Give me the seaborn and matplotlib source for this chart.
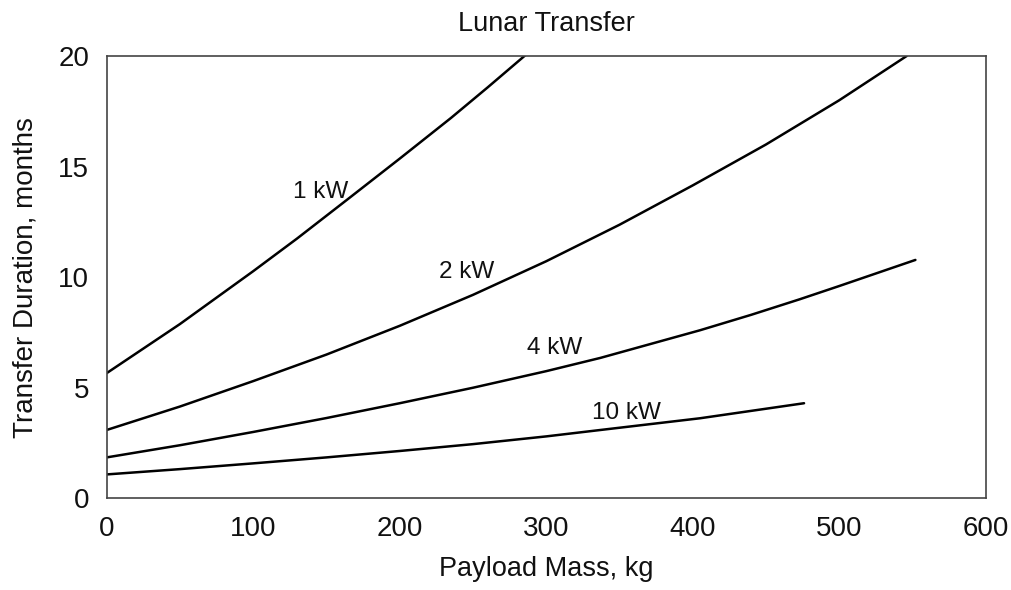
import matplotlib
matplotlib.use("Agg")
import matplotlib.pyplot as plt
import seaborn as sns
import pandas as pd

# Data
kg_1kw = [0, 50, 100, 130, 165, 200, 235, 260, 286]
t_1kw = [5.66, 7.88, 10.27, 11.75, 13.55, 15.36, 17.2, 18.58, 20.05]

kg_2kw = [0, 50, 100, 150, 200, 250, 300, 350, 400, 450, 500, 546]
t_2kw = [3.09, 4.15, 5.3, 6.5, 7.8, 9.2, 10.72, 12.37, 14.15, 16.0, 18.0, 20.0]

kg_4kw = [0, 50, 100, 150, 200, 250, 300, 337, 405, 440, 473, 500, 552]
t_4kw = [1.85, 2.4, 3.0, 3.63, 4.3, 5.0, 5.75, 6.35, 7.6, 8.3, 9.0, 9.6, 10.78]

kg_10kw = [0, 50, 100, 150, 200, 250, 300, 337, 405, 476]
t_10kw = [1.08, 1.32, 1.58, 1.85, 2.14, 2.45, 2.8, 3.09, 3.62, 4.3]

series_names = ["1 kW", "2 kW", "4 kW", "10 kW"]
label_x = [146, 246, 306, 355]
label_y = [13.83, 10.25, 6.79, 3.85]

x_ticks = [0, 100, 200, 300, 400, 500, 600]
y_ticks = [0, 5, 10, 15, 20]

frames = []
for name, xs, ys in zip(series_names,
                        [kg_1kw, kg_2kw, kg_4kw, kg_10kw],
                        [t_1kw, t_2kw, t_4kw, t_10kw]):
    frames.append(pd.DataFrame({"mass": xs, "duration": ys, "power": name}))
df = pd.concat(frames, ignore_index=True)

sns.set_style("white")
plt.rcParams["font.family"] = ["Liberation Sans", "DejaVu Sans"]

fig = plt.figure(figsize=(10.11, 5.90), dpi=100)
ax = fig.add_axes([0.1055, 0.1554, 0.975 - 0.1055, 0.905 - 0.1554])

sns.lineplot(data=df, x="mass", y="duration", units="power", estimator=None,
             sort=False, color="black", linewidth=1.8, ax=ax, legend=False)

for name, lx, ly in zip(series_names, label_x, label_y):
    ax.text(lx, ly, name, ha="center", va="center", fontsize=17.5, color="#111111")

ax.set_xlim(0, 600)
ax.set_ylim(0, 20)
ax.set_xticks(x_ticks)
ax.set_yticks(y_ticks)
ax.tick_params(axis="both", direction="out", length=7.5, width=0.8,
               color="#999999", labelsize=20, pad=5, labelcolor="#111111")
for s in ax.spines.values():
    s.set_color("#444444")
    s.set_linewidth(1.2)

ax.set_xlabel("Payload Mass, kg", fontsize=19.5, color="#111111", labelpad=10)
ax.set_ylabel("Transfer Duration, months", fontsize=20, color="#111111", labelpad=14)
ax.set_title("Lunar Transfer", fontsize=19.5, color="#111111", pad=18)

fig.savefig("out.png", dpi=100)
